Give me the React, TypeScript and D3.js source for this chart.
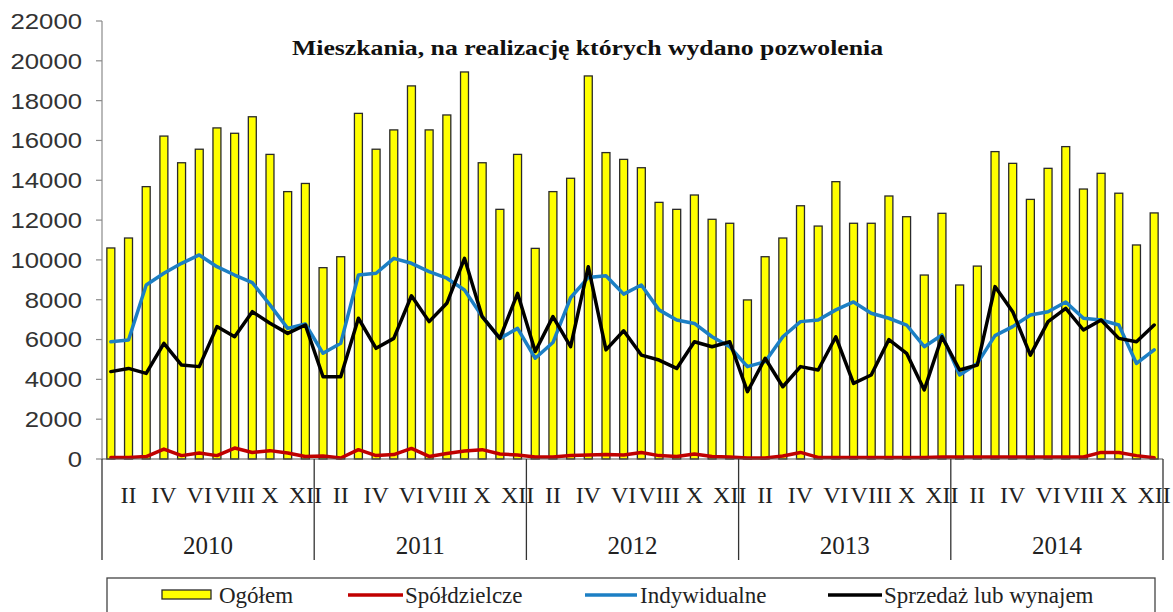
import React from "react";
import * as d3 from "d3";

const years = ["2010", "2011", "2012", "2013", "2014"];
const monthLabels = ["", "II", "", "IV", "", "VI", "", "VIII", "", "X", "", "XII"];
const yTicks = [0, 2000, 4000, 6000, 8000, 10000, 12000, 14000, 16000, 18000, 20000, 22000];

const ogolem = [
  10600, 11100, 13680, 16220, 14880, 15560, 16630, 16360, 17190, 15300, 13430, 13840,
  9610, 10160, 17360, 15560, 16530, 18740, 16530, 17280, 19440, 14880, 12540, 15300,
  10580, 13430, 14100, 19240, 15390, 15050, 14630, 12890, 12540, 13260, 12040, 11840,
  7990, 10160, 11100, 12720, 11700, 13930, 11840, 11840, 13210, 12170, 9240, 12340,
  8740, 9690, 15440, 14850, 13040, 14600, 15690, 13560, 14350, 13350, 10750, 12360,
];
const spoldzielcze = [
  80, 80, 120, 500, 170, 300, 170, 550, 330, 420, 300, 130,
  150, 50, 470, 170, 220, 530, 130, 280, 400, 470, 250, 200,
  100, 100, 170, 200, 230, 200, 330, 170, 130, 250, 130, 100,
  50, 50, 150, 330, 80, 80, 80, 80, 80, 80, 80, 100,
  100, 100, 100, 100, 100, 100, 100, 100, 330, 330, 170, 60,
];
const indywidualne = [
  5890, 5980, 8740, 9330, 9830, 10250, 9660, 9240, 8860, 7740, 6560, 6780,
  5310, 5810, 9240, 9330, 10080, 9830, 9410, 9080, 8490, 7150, 6060, 6560,
  5060, 5850, 8100, 9120, 9200, 8280, 8740, 7490, 6980, 6810, 6140, 5640,
  4640, 4890, 6140, 6900, 6980, 7490, 7890, 7320, 7070, 6730, 5640, 6230,
  4220, 4800, 6200, 6650, 7230, 7400, 7890, 7070, 6980, 6730, 4800, 5480,
];
const sprzedaz = [
  4390, 4550, 4300, 5810, 4720, 4640, 6650, 6140, 7400, 6820, 6310, 6730,
  4130, 4130, 7070, 5560, 6060, 8200, 6900, 7820, 10080, 7150, 6060, 8320,
  5400, 7150, 5640, 9660, 5480, 6440, 5220, 4970, 4550, 5890, 5640, 5890,
  3380, 5060, 3630, 4640, 4470, 6140, 3800, 4220, 6000, 5310, 3470, 6140,
  4470, 4720, 8660, 7400, 5220, 6900, 7570, 6480, 6980, 6060, 5890, 6730,
];

const W = 1173;
const H = 612;
const left = 102;
const right = 1163;
const top = 21;
const bottom = 459;

export default function App() {
  const idx = d3.range(ogolem.length);
  const x = d3
    .scaleBand<number>()
    .domain(idx)
    .range([left, right])
    .paddingInner(0.55)
    .paddingOuter(0.275);
  const y = d3.scaleLinear().domain([0, 22000]).range([bottom, top]);
  const cx = (i: number) => (x(i) as number) + x.bandwidth() / 2;
  const step = x.step();
  const line = d3
    .line<number>()
    .x((_, i) => cx(i))
    .y((d) => y(d));

  const series = [
    { name: "Spółdzielcze", data: spoldzielcze, color: "#C00000" },
    { name: "Indywidualne", data: indywidualne, color: "#1C7FC4" },
    { name: "Sprzedaż lub wynajem", data: sprzedaz, color: "#000000" },
  ];

  const serif = "'Liberation Serif', 'Times New Roman', serif";
  const sans = "'Liberation Sans', Arial, sans-serif";

  return (
    <svg
      width={W}
      height={H}
      style={{ position: "absolute", left: 0, top: 0, background: "#fff" }}
    >
      {/* title */}
      <text
        x={292}
        y={55}
        fontFamily={serif}
        fontWeight="bold"
        fontSize={22}
        textLength={591}
        lengthAdjust="spacingAndGlyphs"
        fill="#111"
      >
        Mieszkania, na realizację których wydano pozwolenia
      </text>

      {/* y axis */}
      <line x1={left} x2={left} y1={top} y2={bottom} stroke="#8a8a8a" strokeWidth={1.2} />
      {yTicks.map((t) => (
        <g key={t}>
          <line x1={left - 6} x2={left} y1={y(t)} y2={y(t)} stroke="#8a8a8a" strokeWidth={1.2} />
          <text
            x={82}
            y={y(t)}
            dy="0.36em"
            textAnchor="end"
            fontFamily={sans}
            fontSize={22}
            textLength={String(t).length * 14.3}
            lengthAdjust="spacingAndGlyphs"
            fill="#333"
          >
            {t}
          </text>
        </g>
      ))}

      {/* bars */}
      {ogolem.map((v, i) => (
        <rect
          key={i}
          x={x(i)}
          y={y(v)}
          width={x.bandwidth()}
          height={bottom - y(v)}
          fill="#FFFF00"
          stroke="#2a2a2a"
          strokeWidth={1.3}
        />
      ))}

      {/* lines */}
      {series.map((s) => (
        <path
          key={s.name}
          d={line(s.data) || ""}
          fill="none"
          stroke={s.color}
          strokeWidth={3.5}
          strokeLinejoin="round"
          strokeLinecap="round"
        />
      ))}

      {/* x axis */}
      <line x1={left} x2={right} y1={bottom} y2={bottom} stroke="#555" strokeWidth={1.2} />
      {d3.range(years.length + 1).map((k) => {
        const xx = left + k * 12 * step;
        return (
          <line key={k} x1={xx} x2={xx} y1={bottom} y2={560} stroke="#333" strokeWidth={1.3} />
        );
      })}
      {idx.map((i) =>
        monthLabels[i % 12] ? (
          <text
            key={"m" + i}
            x={cx(i)}
            y={503}
            textAnchor="middle"
            fontFamily={serif}
            fontSize={24}
            fill="#222"
          >
            {monthLabels[i % 12]}
          </text>
        ) : null
      )}
      {years.map((yr, k) => (
        <text
          key={yr}
          x={left + (k * 12 + 6) * step}
          y={554}
          textAnchor="middle"
          fontFamily={serif}
          fontSize={25}
          fill="#222"
        >
          {yr}
        </text>
      ))}

      {/* legend */}
      <rect x={107} y={578} width={1048} height={50} fill="#fff" stroke="#444" strokeWidth={1.3} />
      <rect x={162} y={590} width={49} height={9} fill="#FFFF00" stroke="#2a2a2a" strokeWidth={1.3} />
      <text x={219} y={603} fontFamily={serif} fontSize={23} fill="#222">
        Ogółem
      </text>
      {[
        { s: series[0], x0: 348, x1: 403, tx: 405 },
        { s: series[1], x0: 585, x1: 637, tx: 640 },
        { s: series[2], x0: 828, x1: 882, tx: 884 },
      ].map((it) => (
        <g key={it.s.name}>
          <line x1={it.x0} x2={it.x1} y1={595} y2={595} stroke={it.s.color} strokeWidth={3.5} />
          <text x={it.tx} y={603} fontFamily={serif} fontSize={23} fill="#222">
            {it.s.name}
          </text>
        </g>
      ))}
    </svg>
  );
}
